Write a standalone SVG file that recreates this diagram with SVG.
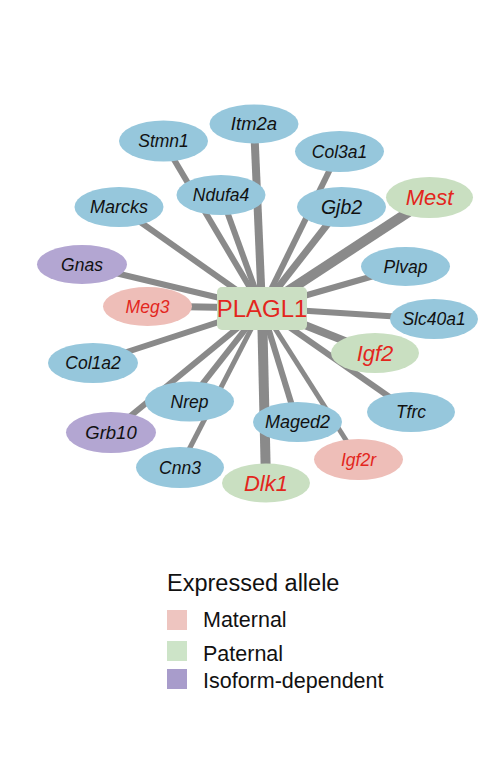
<svg xmlns="http://www.w3.org/2000/svg" width="482" height="767" viewBox="0 0 482 767">
<style>
.e{stroke:#8a8a8a;stroke-linecap:butt;fill:none}
.blue{fill:#96C7DC}
.pur{fill:#B3A6D2}
.pink{fill:#EEBEB8}
.green{fill:#C9DFC1}
text{font-family:"Liberation Sans",Arial,sans-serif;text-anchor:middle}
.n{font-style:italic;font-size:17.5px;fill:#111}
.r{fill:#E3261D}
.lg{font-size:21.5px;fill:#111;text-anchor:start}
</style>
<rect width="482" height="767" fill="#fff"/>
<g id="edges">
<line class="e" x1="262" y1="308" x2="254" y2="124" stroke-width="8"/>
<line class="e" x1="262" y1="308" x2="163" y2="141" stroke-width="6"/>
<line class="e" x1="262" y1="308" x2="221" y2="195" stroke-width="6"/>
<line class="e" x1="262" y1="308" x2="119" y2="207" stroke-width="6"/>
<line class="e" x1="262" y1="308" x2="339" y2="151" stroke-width="6"/>
<line class="e" x1="262" y1="308" x2="341" y2="207" stroke-width="7"/>
<line class="e" x1="262" y1="308" x2="430" y2="198" stroke-width="10"/>
<line class="e" x1="262" y1="308" x2="82" y2="265" stroke-width="6"/>
<line class="e" x1="262" y1="308" x2="147" y2="306" stroke-width="7"/>
<line class="e" x1="262" y1="308" x2="93" y2="363" stroke-width="6"/>
<line class="e" x1="262" y1="308" x2="405" y2="267" stroke-width="6"/>
<line class="e" x1="262" y1="308" x2="434" y2="319" stroke-width="6"/>
<line class="e" x1="262" y1="308" x2="375" y2="353" stroke-width="8"/>
<line class="e" x1="262" y1="308" x2="411" y2="412" stroke-width="6"/>
<line class="e" x1="262" y1="308" x2="358" y2="459" stroke-width="5"/>
<line class="e" x1="262" y1="308" x2="297" y2="422" stroke-width="6"/>
<line class="e" x1="262" y1="308" x2="266" y2="483" stroke-width="10"/>
<line class="e" x1="262" y1="308" x2="180" y2="467" stroke-width="5"/>
<line class="e" x1="262" y1="308" x2="111" y2="432" stroke-width="6"/>
<line class="e" x1="262" y1="308" x2="189" y2="401" stroke-width="6"/>
</g>
<g id="Itm2a"><ellipse class="blue" cx="254" cy="124" rx="44.5" ry="19.5"/><text class="n" x="254" y="124" dy="0.35em" style="font-size:18.5px">Itm2a</text></g>
<g id="Stmn1"><ellipse class="blue" cx="163.5" cy="141" rx="44.5" ry="20.5"/><text class="n" x="163.5" y="141" dy="0.35em">Stmn1</text></g>
<g id="Ndufa4"><ellipse class="blue" cx="221" cy="195" rx="44.5" ry="20"/><text class="n" x="221" y="195" dy="0.35em">Ndufa4</text></g>
<g id="Marcks"><ellipse class="blue" cx="119" cy="207" rx="44.5" ry="20"/><text class="n" x="119" y="207" dy="0.35em" style="font-size:18px">Marcks</text></g>
<g id="Col3a1"><ellipse class="blue" cx="339.5" cy="151.5" rx="44.5" ry="20.5"/><text class="n" x="339.5" y="151.5" dy="0.35em">Col3a1</text></g>
<g id="Gjb2"><ellipse class="blue" cx="341.5" cy="207" rx="44.5" ry="20"/><text class="n" x="341.5" y="207" dy="0.35em" style="font-size:19.5px">Gjb2</text></g>
<g id="Mest"><ellipse class="green" cx="429.5" cy="197.5" rx="43.5" ry="20.5"/><text class="n r" x="429.5" y="197.5" dy="0.35em" style="font-size:22px">Mest</text></g>
<g id="Gnas"><ellipse class="pur" cx="82" cy="264.5" rx="45" ry="19.5"/><text class="n" x="82" y="264.5" dy="0.35em">Gnas</text></g>
<g id="Meg3"><ellipse class="pink" cx="147.5" cy="306.5" rx="44.5" ry="19.5"/><text class="n r" x="147.5" y="306.5" dy="0.35em">Meg3</text></g>
<g id="Col1a2"><ellipse class="blue" cx="93" cy="363" rx="45" ry="20"/><text class="n" x="93" y="363" dy="0.35em">Col1a2</text></g>
<g id="Plvap"><ellipse class="blue" cx="405.5" cy="266.5" rx="44.5" ry="19.5"/><text class="n" x="405.5" y="266.5" dy="0.35em">Plvap</text></g>
<g id="Slc40a1"><ellipse class="blue" cx="434" cy="319" rx="44" ry="20"/><text class="n" x="434" y="319" dy="0.35em">Slc40a1</text></g>
<g id="Igf2"><ellipse class="green" cx="375" cy="353" rx="44" ry="20"/><text class="n r" x="375" y="353" dy="0.35em" style="font-size:22px">Igf2</text></g>
<g id="Tfrc"><ellipse class="blue" cx="411" cy="412" rx="44" ry="20"/><text class="n" x="411" y="412" dy="0.35em">Tfrc</text></g>
<g id="Igf2r"><ellipse class="pink" cx="358.5" cy="459.5" rx="44.5" ry="20.5"/><text class="n r" x="358.5" y="459.5" dy="0.35em">Igf2r</text></g>
<g id="Maged2"><ellipse class="blue" cx="297.5" cy="422" rx="44.5" ry="20"/><text class="n" x="297.5" y="422" dy="0.35em" style="font-size:18px">Maged2</text></g>
<g id="Dlk1"><ellipse class="green" cx="266" cy="483" rx="44" ry="19.5"/><text class="n r" x="266" y="483" dy="0.35em" style="font-size:22px">Dlk1</text></g>
<g id="Cnn3"><ellipse class="blue" cx="180" cy="467.5" rx="44" ry="20.5"/><text class="n" x="180" y="467.5" dy="0.35em">Cnn3</text></g>
<g id="Grb10"><ellipse class="pur" cx="111" cy="432.5" rx="45" ry="20.5"/><text class="n" x="111" y="432.5" dy="0.35em" style="font-size:18.5px">Grb10</text></g>
<g id="Nrep"><ellipse class="blue" cx="189.5" cy="401.5" rx="44.5" ry="20"/><text class="n" x="189.5" y="401.5" dy="0.35em">Nrep</text></g>
<g id="PLAGL1"><rect x="217" y="287" width="90" height="43" rx="5" fill="#CBDFC3"/><text x="262" y="308.5" dy="0.35em" style="font-size:24px;fill:#E3261D">PLAGL1</text></g>
<g id="legend">
<text class="lg" x="167" y="591" style="font-size:23.5px">Expressed allele</text>
<rect x="167" y="610" width="20" height="20" fill="#EEC5C0"/>
<text class="lg" x="203" y="627">Maternal</text>
<rect x="167" y="641" width="20" height="20" fill="#CDE4C8"/>
<text class="lg" x="203" y="661">Paternal</text>
<rect x="167" y="669" width="20" height="20" fill="#A89CCB"/>
<text class="lg" x="203" y="688">Isoform-dependent</text>
</g>
</svg>
